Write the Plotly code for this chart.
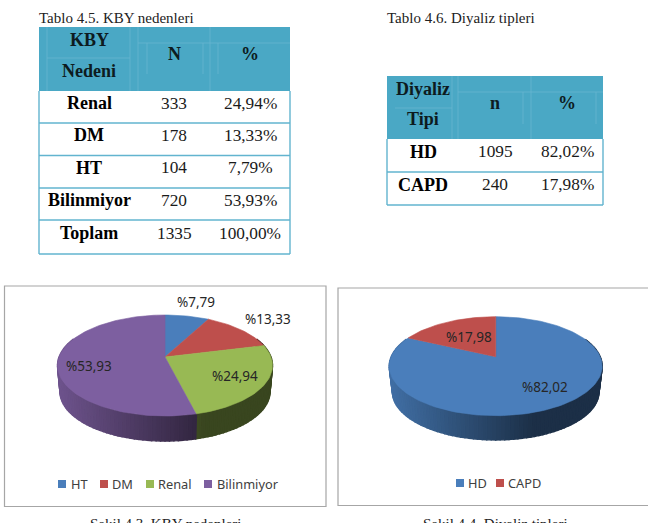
import math
import plotly.graph_objects as go

# Table contents
kby_header = ["KBY", "Nedeni", "N", "%"]
kby_causes = ["Renal", "DM", "HT", "Bilinmiyor", "Toplam"]
kby_counts = ["333", "178", "104", "720", "1335"]
kby_shares = ["24,94%", "13,33%", "7,79%", "53,93%", "100,00%"]

dialysis_header = ["Diyaliz", "Tipi", "n", "%"]
dialysis_types = ["HD", "CAPD"]
dialysis_counts = ["1095", "240"]
dialysis_shares = ["82,02%", "17,98%"]

# Pie contents, clockwise from twelve o'clock
kby_pie_names = ["HT", "DM", "Renal", "Bilinmiyor"]
kby_pie_values = [7.79, 13.33, 24.94, 53.93]
kby_pie_colors = ["#4a7ebb", "#be4f4c", "#98b954", "#7d5fa0"]
kby_pie_labels = ["%7,79", "%13,33", "%24,94", "%53,93"]

dialysis_pie_names = ["HD", "CAPD"]
dialysis_pie_values = [82.02, 17.98]
dialysis_pie_colors = ["#4a7ebb", "#be4f4c"]
dialysis_pie_labels = ["%82,02", "%17,98"]

TEAL = "#4aa8c5"
EDGE = "#62b4cf"
GRID = "#6fbbd4"
FRAME = "#a6a6a6"
SERIF = "Liberation Serif"
SANS = "Noto Sans"

fig = go.Figure()
shapes = []
notes = []


def text(x, y, s, size, color="#000000", family=SERIF, bold=False, anchor="center", valign="middle"):
    notes.append(dict(
        x=x, y=y, text=f"<b>{s}</b>" if bold else s, showarrow=False,
        xanchor=anchor, yanchor=valign, align="center", borderpad=0, borderwidth=0,
        font=dict(family=family, size=size, color=color),
    ))


def rect(x0, y0, x1, y1, fill=None, line=None, width=1):
    shapes.append(dict(
        type="rect", x0=x0, y0=y0, x1=x1, y1=y1,
        fillcolor=fill or "rgba(0,0,0,0)",
        line=dict(color=line or "rgba(0,0,0,0)", width=width if line else 0),
    ))


def seg(x0, y0, x1, y1, color, width=1):
    shapes.append(dict(type="line", x0=x0, y0=y0, x1=x1, y1=y1,
                       line=dict(color=color, width=width)))


def draw_table(left, right, top, head_bottom, row_lines, columns, header, col1, col2, col3, faint):
    rect(left, top, right, head_bottom, fill=TEAL)
    for h in faint:
        seg(*h, GRID, 0.6)
    text(columns[0], (3 * top + head_bottom) / 4 - 3, header[0], 18, bold=True, color="#0d1b20")
    text(columns[0], (top + 3 * head_bottom) / 4 - 4, header[1], 18, bold=True, color="#0d1b20")
    middle = (top + head_bottom) / 2 - 5
    text(columns[1], middle, header[2], 18, bold=True, color="#0d1b20")
    text(columns[2], middle, header[3], 18, bold=True, color="#0d1b20")
    for y in row_lines:
        seg(left, y, right, y, EDGE, 1.4)
    seg(left, head_bottom, left, row_lines[-1], EDGE, 1.4)
    seg(right, head_bottom, right, row_lines[-1], EDGE, 1.4)
    edges = [head_bottom] + list(row_lines)
    for i in range(len(col1)):
        y = (edges[i] + edges[i + 1]) / 2 - 4
        text(columns[0], y, col1[i], 18, bold=True)
        text(columns[1], y, col2[i], 17.3, color="#1a1a1a")
        text(columns[2], y, col3[i], 17.3, color="#1a1a1a")


def mix(hex_color, factor):
    r, g, b = (int(hex_color[i:i + 2], 16) for i in (1, 3, 5))
    return f"rgb({int(r * factor)},{int(g * factor)},{int(b * factor)})"


def draw_pie(values, colors, cx, cy, rx, up, down, squeeze, drop):
    """Perspective pie: a projective map of the unit circle with a lower rim for the wall."""
    k = (down - up) / (down + up)
    a = up * (1 + k)
    b = rx * math.sqrt(1 - k * k)

    def top(theta):
        u, v = math.sin(theta), math.cos(theta)
        w = 1 + k * v
        return cx + b * u / w, cy - a * v / w

    def low(theta):
        u, v = math.sin(theta), math.cos(theta)
        w = 1 + k * v
        return cx + squeeze * b * u / w, cy + drop - squeeze * a * v / w

    total = sum(values)
    bounds = [0.0]
    for v in values:
        bounds.append(bounds[-1] + v / total * 2 * math.pi)

    # Side wall, shaded left to right
    steps = 110
    for i in range(steps):
        t0 = math.pi / 2 - 0.4 + i * (math.pi + 0.8) / steps
        t1 = t0 + (math.pi + 0.8) / steps
        mid = (t0 + t1) / 2
        idx = next(j for j in range(len(values)) if bounds[j] <= mid < bounds[j + 1] + 1e-9)
        p0, p1, q1, q0 = top(t0), top(t1), low(t1), low(t0)
        pos = (top(mid)[0] - (cx - rx)) / (2 * rx)
        factor = 0.88 - 0.5 * min(pos / 0.68, 1)
        shade = mix(colors[idx], factor)
        fig.add_trace(go.Scatter(
            x=[p0[0], p1[0], q1[0], q0[0], p0[0]],
            y=[p0[1], p1[1], q1[1], q0[1], p0[1]],
            mode="lines", fill="toself", fillcolor=shade,
            line=dict(color=shade, width=1.4), hoverinfo="skip", showlegend=False,
        ))

    # Top face
    for i, v in enumerate(values):
        n = max(int(v * 2), 6)
        ts = [bounds[i] + (bounds[i + 1] - bounds[i]) * j / n for j in range(n + 1)]
        pts = [top(t) for t in ts]
        fig.add_trace(go.Scatter(
            x=[cx] + [p[0] for p in pts] + [cx],
            y=[cy] + [p[1] for p in pts] + [cy],
            mode="lines", fill="toself", fillcolor=colors[i],
            line=dict(color=colors[i], width=0.6), hoverinfo="skip", showlegend=False,
        ))


def legend(items, colors, positions, y):
    for name, color, (sx, tx) in zip(items, colors, positions):
        rect(sx, y - 4, sx + 8, y + 4, fill=color)
        text(tx, y, name, 12.8, color="#404040", family=SANS, anchor="left")


# Tables
text(39, 18, "Tablo 4.5. KBY nedenleri", 15, color="#222222", anchor="left")
draw_table(
    39, 290, 27, 91, [123, 155.5, 188, 220, 254], [89, 174, 250],
    kby_header, kby_causes, kby_counts, kby_shares,
    [(47, 27, 47, 91), (130, 27, 130, 91), (138, 27, 138, 91), (210, 27, 210, 91),
     (138, 43, 290, 43), (47, 58, 130, 58), (147, 43, 147, 74), (203, 43, 203, 74), (218, 43, 218, 74)],
)
text(386.5, 18, "Tablo 4.6. Diyaliz tipleri", 15, color="#222222", anchor="left")
draw_table(
    387, 603, 76, 139, [172, 205], [423, 495, 567],
    dialysis_header, dialysis_types, dialysis_counts, dialysis_shares,
    [(452, 76, 452, 139), (458, 76, 458, 139), (531, 76, 531, 139),
     (458, 92, 603, 92), (395, 108, 452, 108), (523, 92, 523, 124), (596, 92, 596, 124)],
)

# Chart frames
rect(4.5, 286, 326, 506.5, line=FRAME, width=1.2)
rect(338, 288, 649, 505.5, line=FRAME, width=1.2)

# Pies
draw_pie(kby_pie_values, kby_pie_colors, 165, 357, 107.5, 42, 59, 0.977, 26.4)
draw_pie(dialysis_pie_values, dialysis_pie_colors, 495.7, 356.7, 106.5, 40, 59, 0.97, 26)

for (x, y), s in zip([(195.7, 302), (268, 319), (234.7, 375.7), (89, 366)], kby_pie_labels):
    text(x, y, s, 13.5, color="#262626", family=SANS)
for (x, y), s in zip([(545, 387), (468.7, 337)], dialysis_pie_labels):
    text(x, y, s, 13.5, color="#262626", family=SANS)

legend(kby_pie_names, kby_pie_colors, [(58, 71), (100, 112), (146, 158), (204, 217)], 484)
legend(dialysis_pie_names, dialysis_pie_colors, [(456, 468), (496, 508)], 483)

# Figure captions run off the page foot
text(90, 516, "Şekil 4.3. KBY nedenleri", 15, color="#222222", anchor="left", valign="top")
text(423, 516, "Şekil 4.4. Diyaliz tipleri", 15, color="#222222", anchor="left", valign="top")

fig.update_layout(
    width=648, height=523, margin=dict(l=0, r=0, t=0, b=0),
    paper_bgcolor="white", plot_bgcolor="white", showlegend=False,
    shapes=shapes, annotations=notes,
    xaxis=dict(range=[0, 648], visible=False, fixedrange=True),
    yaxis=dict(range=[523, 0], visible=False, fixedrange=True),
)
fig.write_html("out.html", config=dict(displayModeBar=False))
